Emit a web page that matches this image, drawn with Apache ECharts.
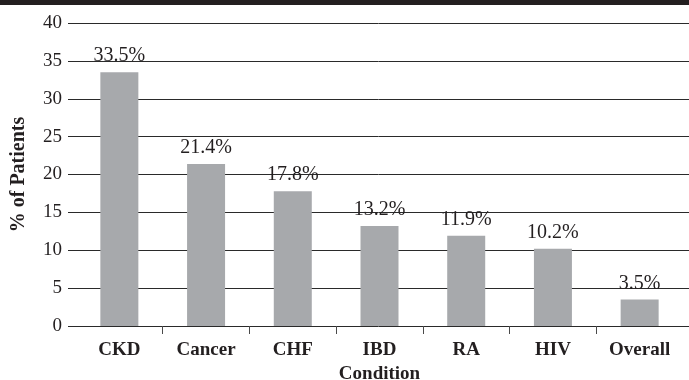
<!DOCTYPE html>
<html>
<head>
<meta charset="utf-8">
<script src="https://cdn.jsdelivr.net/npm/echarts@6/dist/echarts.min.js"></script>
<style>
  html, body { margin: 0; padding: 0; background: #ffffff; }
  #chart { width: 689px; height: 380px; }
</style>
</head>
<body>
<div id="chart"></div>
<script>
// Share of patients by condition
const categories = ['CKD', 'Cancer', 'CHF', 'IBD', 'RA', 'HIV', 'Overall'];
const patientPct = [33.5, 21.4, 17.8, 13.2, 11.9, 10.2, 3.5];
const yMin = 0;
const yMax = 40;
const yStep = 5;

const ink = '#231f20';
const barGray = '#a7a9ac';
const serif = '"Liberation Serif", "Times New Roman", serif';

// tick marks sit between neighbouring categories
const betweenTicks = categories.slice(1).map((_, i) => i + 0.5);

const chart = echarts.init(document.getElementById('chart'), null, { renderer: 'canvas' });

const plotTop = 23;
const plotBottom = 54;

const gridBox = (left, right) => ({
  left, right, top: plotTop, bottom: plotBottom,
  containLabel: false, outerBoundsMode: 'none'
});

const hiddenValueY = (gridIndex) => ({
  type: 'value', gridIndex, min: yMin, max: yMax, interval: yStep, show: false
});

chart.setOption({
  animation: false,
  backgroundColor: '#ffffff',
  graphic: [{
    type: 'rect',
    left: 0, top: 0,
    shape: { width: 689, height: 5 },
    style: { fill: ink },
    z: 100
  }],
  grid: [gridBox(68, 0), gridBox(76, 6), gridBox(76, 6)],
  xAxis: [
    { type: 'value', gridIndex: 0, show: false, min: 0, max: 1 },
    {
      type: 'category', gridIndex: 1, data: categories,
      axisLine: { show: false },
      axisTick: { show: false },
      axisLabel: {
        color: ink, fontFamily: serif, fontWeight: 'bold', fontSize: 19, margin: 15
      },
      name: 'Condition',
      nameLocation: 'middle',
      nameGap: 38,
      nameTextStyle: { color: ink, fontFamily: serif, fontWeight: 'bold', fontSize: 19 }
    },
    {
      type: 'value', gridIndex: 2,
      min: -0.5, max: categories.length - 0.5,
      axisLine: { show: false },
      axisLabel: { show: false },
      splitLine: { show: false },
      axisTick: {
        show: true, length: 8, inside: false,
        customValues: betweenTicks,
        lineStyle: { color: '#4a4a4a', width: 1 }
      }
    }
  ],
  yAxis: [
    {
      type: 'value', gridIndex: 0, min: yMin, max: yMax, interval: yStep,
      axisLine: { show: false },
      axisTick: { show: false },
      axisLabel: { color: ink, fontFamily: serif, fontSize: 19, margin: 6 },
      splitLine: { show: true, lineStyle: { color: '#2a2a2a', width: 1 } },
      name: '% of Patients',
      nameLocation: 'middle',
      nameGap: 39,
      nameTextStyle: { color: ink, fontFamily: serif, fontWeight: 'bold', fontSize: 20 }
    },
    hiddenValueY(1),
    hiddenValueY(2)
  ],
  series: [{
    type: 'bar',
    xAxisIndex: 1,
    yAxisIndex: 1,
    data: patientPct,
    barWidth: 38,
    itemStyle: { color: barGray },
    label: {
      show: true,
      position: 'top',
      distance: 6,
      color: ink,
      fontFamily: serif,
      fontSize: 20,
      formatter: (p) => p.value.toFixed(1) + '%'
    }
  }]
});
</script>
</body>
</html>
